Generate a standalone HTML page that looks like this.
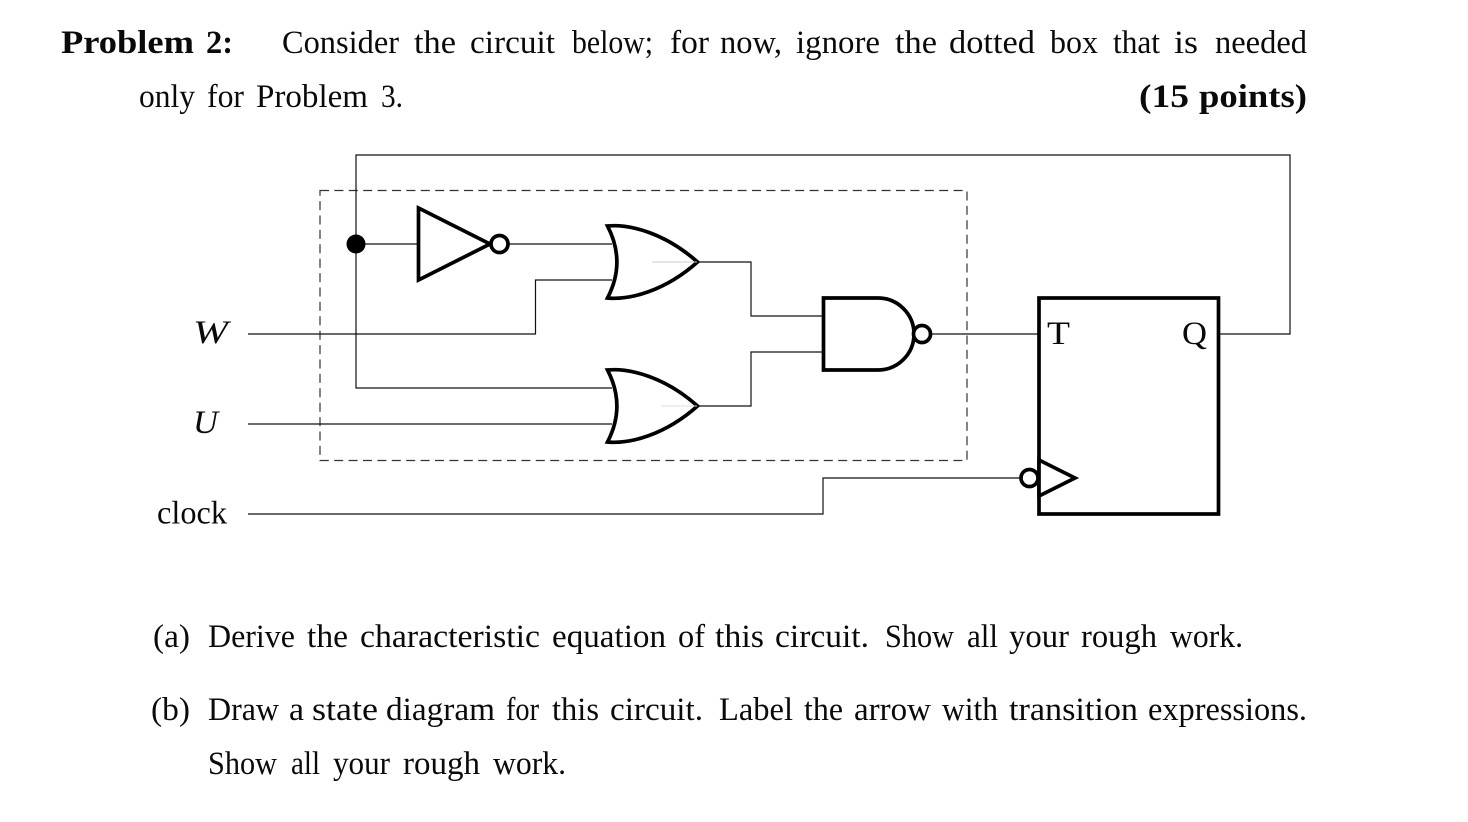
<!DOCTYPE html>
<html><head><meta charset="utf-8"><style>
html,body{margin:0;padding:0;background:#fff}
svg{display:block}
text{font-family:"Liberation Serif",serif;fill:#0a0a0a;font-size:33px}
</style></head><body>
<svg width="1468" height="822" viewBox="0 0 1468 822" xmlns="http://www.w3.org/2000/svg">
<g lengthAdjust="spacingAndGlyphs">
<g font-weight="bold">
<text x="61" y="53" textLength="133" lengthAdjust="spacingAndGlyphs">Problem</text>
<text x="206" y="53" textLength="27" lengthAdjust="spacingAndGlyphs">2:</text>
<text x="1139" y="107" textLength="50" lengthAdjust="spacingAndGlyphs">(15</text>
<text x="1199" y="107" textLength="108" lengthAdjust="spacingAndGlyphs">points)</text>
</g>
<text x="282" y="53" textLength="117" lengthAdjust="spacingAndGlyphs">Consider</text>
<text x="414" y="53" textLength="42" lengthAdjust="spacingAndGlyphs">the</text>
<text x="470" y="53" textLength="85" lengthAdjust="spacingAndGlyphs">circuit</text>
<text x="572" y="53" textLength="81" lengthAdjust="spacingAndGlyphs">below;</text>
<text x="670" y="53" textLength="39" lengthAdjust="spacingAndGlyphs">for</text>
<text x="720" y="53" textLength="62" lengthAdjust="spacingAndGlyphs">now,</text>
<text x="796" y="53" textLength="84" lengthAdjust="spacingAndGlyphs">ignore</text>
<text x="895" y="53" textLength="42" lengthAdjust="spacingAndGlyphs">the</text>
<text x="949" y="53" textLength="86" lengthAdjust="spacingAndGlyphs">dotted</text>
<text x="1050" y="53" textLength="48" lengthAdjust="spacingAndGlyphs">box</text>
<text x="1113" y="53" textLength="47" lengthAdjust="spacingAndGlyphs">that</text>
<text x="1174" y="53" textLength="24" lengthAdjust="spacingAndGlyphs">is</text>
<text x="1215" y="53" textLength="92" lengthAdjust="spacingAndGlyphs">needed</text>

<text x="139" y="107" textLength="56" lengthAdjust="spacingAndGlyphs">only</text>
<text x="207" y="107" textLength="37" lengthAdjust="spacingAndGlyphs">for</text>
<text x="256" y="107" textLength="112" lengthAdjust="spacingAndGlyphs">Problem</text>
<text x="381" y="107" textLength="22" lengthAdjust="spacingAndGlyphs">3.</text>
</g>

<g fill="none" stroke="#333" stroke-width="1.2">
<rect x="320" y="190.5" width="647" height="270" stroke-dasharray="9 5.4"/>
</g>
<g fill="none" stroke="#111" stroke-width="1.2">
<path d="M1219 334H1290V155H356V388H612"/>
<path d="M356 244H418"/>
<path d="M509 244H612"/>
<path d="M248 334H535.500V280H612"/>
<path d="M248 424H612"/>
<path d="M697 262H751V316H823"/>
<path d="M697 406H751V352H823"/>
<path d="M932 334H1039"/>
<path d="M248 514H823V478H1020"/>
</g>
<circle cx="356" cy="244" r="9.500" fill="#000"/>
<g fill="#fff" stroke="#000" stroke-width="3.700" stroke-linejoin="miter">
<path d="M418.500 208V280L490 244Z"/>
<circle cx="499.500" cy="244" r="8.500"/>
<path d="M607.500 226C630 224 665 233 697.500 262C665 291 630 300 607.500 298C620 274 620 250 607.500 226Z"/>
<path d="M607.500 370C630 368 665 377 697.500 406C665 435 630 444 607.500 442C620 418 620 394 607.500 370Z"/>
<path d="M823.500 298H878A36 36 0 0 1 878 370H823.500Z"/>
<circle cx="922" cy="334" r="8.500"/>
<rect x="1039" y="298" width="179.500" height="216"/>
<path d="M1039 460L1075 478L1039 496Z"/>
<circle cx="1029.500" cy="478" r="8.500"/>
</g>
<path d="M652 262H697" stroke="#ccc" stroke-width="1" fill="none"/>
<path d="M661 406H697" stroke="#ddd" stroke-width="1" fill="none"/>

<text x="193" y="343" font-style="italic" textLength="35" lengthAdjust="spacingAndGlyphs">W</text>
<text x="193" y="433" font-style="italic" textLength="25" lengthAdjust="spacingAndGlyphs">U</text>
<text x="157" y="523.500" textLength="70" lengthAdjust="spacingAndGlyphs">clock</text>
<text x="1047" y="344" textLength="23" lengthAdjust="spacingAndGlyphs">T</text>
<text x="1182" y="344" textLength="25" lengthAdjust="spacingAndGlyphs">Q</text>

<text x="153" y="647" textLength="37" lengthAdjust="spacingAndGlyphs">(a)</text>
<text x="208" y="647" textLength="87" lengthAdjust="spacingAndGlyphs">Derive</text>
<text x="307" y="647" textLength="41" lengthAdjust="spacingAndGlyphs">the</text>
<text x="360" y="647" textLength="180" lengthAdjust="spacingAndGlyphs">characteristic</text>
<text x="552" y="647" textLength="114" lengthAdjust="spacingAndGlyphs">equation</text>
<text x="678" y="647" textLength="27" lengthAdjust="spacingAndGlyphs">of</text>
<text x="715" y="647" textLength="49" lengthAdjust="spacingAndGlyphs">this</text>
<text x="775" y="647" textLength="94" lengthAdjust="spacingAndGlyphs">circuit.</text>
<text x="885" y="647" textLength="69" lengthAdjust="spacingAndGlyphs">Show</text>
<text x="967" y="647" textLength="31" lengthAdjust="spacingAndGlyphs">all</text>
<text x="1009" y="647" textLength="60" lengthAdjust="spacingAndGlyphs">your</text>
<text x="1081" y="647" textLength="76" lengthAdjust="spacingAndGlyphs">rough</text>
<text x="1170" y="647" textLength="73" lengthAdjust="spacingAndGlyphs">work.</text>

<text x="151" y="720" textLength="39" lengthAdjust="spacingAndGlyphs">(b)</text>
<text x="208" y="720" textLength="71" lengthAdjust="spacingAndGlyphs">Draw</text>
<text x="289" y="720" textLength="15" lengthAdjust="spacingAndGlyphs">a</text>
<text x="312" y="720" textLength="66" lengthAdjust="spacingAndGlyphs">state</text>
<text x="386" y="720" textLength="109" lengthAdjust="spacingAndGlyphs">diagram</text>
<text x="506" y="720" textLength="33" lengthAdjust="spacingAndGlyphs">for</text>
<text x="552" y="720" textLength="47" lengthAdjust="spacingAndGlyphs">this</text>
<text x="610" y="720" textLength="93" lengthAdjust="spacingAndGlyphs">circuit.</text>
<text x="719" y="720" textLength="74" lengthAdjust="spacingAndGlyphs">Label</text>
<text x="804" y="720" textLength="39" lengthAdjust="spacingAndGlyphs">the</text>
<text x="854" y="720" textLength="77" lengthAdjust="spacingAndGlyphs">arrow</text>
<text x="942" y="720" textLength="56" lengthAdjust="spacingAndGlyphs">with</text>
<text x="1009" y="720" textLength="129" lengthAdjust="spacingAndGlyphs">transition</text>
<text x="1148" y="720" textLength="159" lengthAdjust="spacingAndGlyphs">expressions.</text>

<text x="208" y="774" textLength="69" lengthAdjust="spacingAndGlyphs">Show</text>
<text x="291" y="774" textLength="29" lengthAdjust="spacingAndGlyphs">all</text>
<text x="333" y="774" textLength="57" lengthAdjust="spacingAndGlyphs">your</text>
<text x="403" y="774" textLength="77" lengthAdjust="spacingAndGlyphs">rough</text>
<text x="493" y="774" textLength="73" lengthAdjust="spacingAndGlyphs">work.</text>
</svg>
</body></html>
